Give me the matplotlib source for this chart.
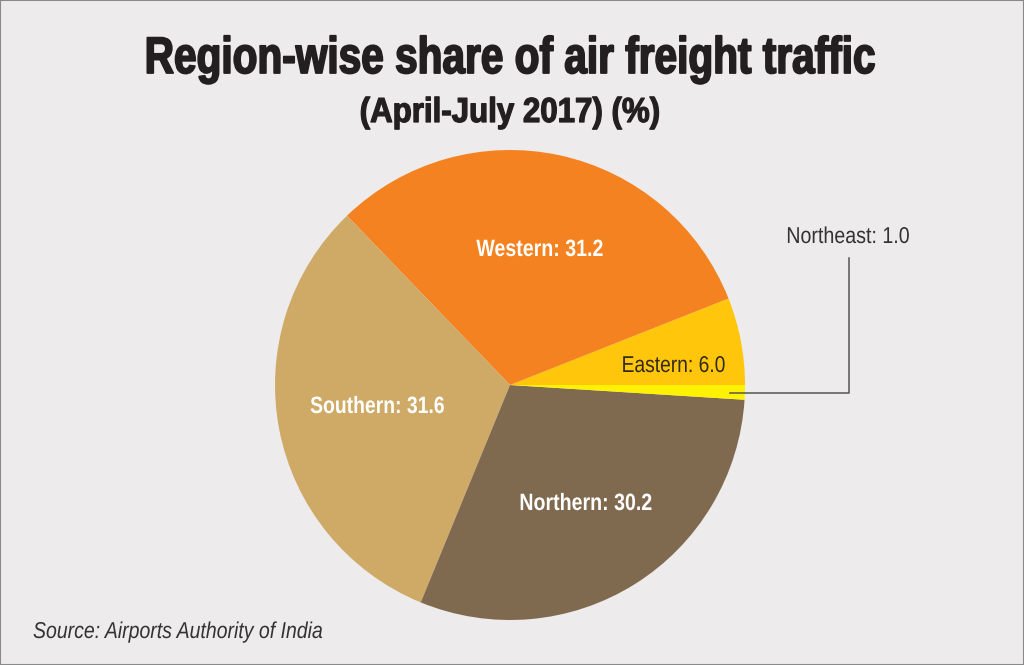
import matplotlib.pyplot as plt
from matplotlib.patches import Rectangle
from matplotlib.patheffects import AbstractPathEffect
from matplotlib.transforms import Affine2D

regions = ['Eastern', 'Western', 'Southern', 'Northern', 'Northeast']
shares = [6.0, 31.2, 31.6, 30.2, 1.0]
colors = ['#FFC60B', '#F58220', '#CFAA66', '#7F6A4F', '#FFF200']

W, H = 1024, 665
DARK = '#231F20'
font = ['Liberation Sans', 'DejaVu Sans']


# No condensed face installed, so squeeze the glyph outlines sideways
class Squeeze(AbstractPathEffect):
    def __init__(self, x0, factor, stroke=0.0):
        super().__init__()
        self.x0 = x0
        self.factor = factor
        self.stroke = stroke

    def draw_path(self, renderer, gc, tpath, affine, rgbFace=None):
        squeeze = Affine2D().translate(-self.x0, 0).scale(self.factor, 1).translate(self.x0, 0)
        gc0 = renderer.new_gc()
        gc0.copy_properties(gc)
        if self.stroke:
            gc0.set_linewidth(self.stroke)
            gc0.set_foreground(rgbFace)
        renderer.draw_path(gc0, tpath, affine + squeeze, rgbFace)
        gc0.restore()


def label(x, y, s, size, factor=1.0, stroke=0.0, color=DARK, weight='normal', style='normal', ha='center'):
    t = fig.text(x / W, 1 - y / H, s, ha=ha, va='center_baseline', fontsize=size,
                 fontweight=weight, style=style, color=color, family=font)
    t.set_path_effects([Squeeze(x, factor, stroke)])
    return t


fig = plt.figure(figsize=(W / 100, H / 100), dpi=100, facecolor='#EDEBEC')

# Pie axes: circle centre about (510, 385), radius about 235 px
r = 235
ax = fig.add_axes([(510 - r) / W, 1 - (385 + r) / H, 2 * r / W, 2 * r / H])
ax.pie(shares, colors=colors, startangle=0, counterclock=True, radius=1,
       wedgeprops=dict(linewidth=0))
ax.set_xlim(-1, 1)
ax.set_ylim(-1, 1)
ax.set_aspect('equal')

label(510, 54, 'Region-wise share of air freight traffic', 37, factor=0.79, stroke=1.3, weight='bold')
label(510, 109, '(April-July 2017) (%)', 25, factor=0.9, stroke=0.9, weight='bold')

label(540, 247, f'{regions[1]}: {shares[1]}', 17, factor=0.83, weight='bold', color='white')
label(377.5, 404, f'{regions[2]}: {shares[2]}', 17, factor=0.82, weight='bold', color='white')
label(586, 501, f'{regions[3]}: {shares[3]}', 17, factor=0.83, weight='bold', color='white')
label(673.5, 363, f'{regions[0]}: {shares[0]}', 16.5, factor=0.84, color='#33291A')
label(848, 234, f'{regions[4]}: {shares[4]}', 16.5, factor=0.857, color='#333333')
label(33, 629, 'Source: Airports Authority of India', 16.5, factor=0.85, color='#333333', style='italic', ha='left')

# Leader line from the Northeast slice up to its label
xs = [730, 849, 849]
ys = [392.5, 392.5, 258]
fig.add_artist(plt.Line2D([x / W for x in xs], [1 - y / H for y in ys],
                          color='#555555', linewidth=1.1))

# Thin frame round the picture
fig.add_artist(Rectangle((0, 0), 1, 1, transform=fig.transFigure, fill=False,
                         edgecolor='#8A8A8A', linewidth=1.5))

fig.savefig('out.png', dpi=100, facecolor=fig.get_facecolor())
